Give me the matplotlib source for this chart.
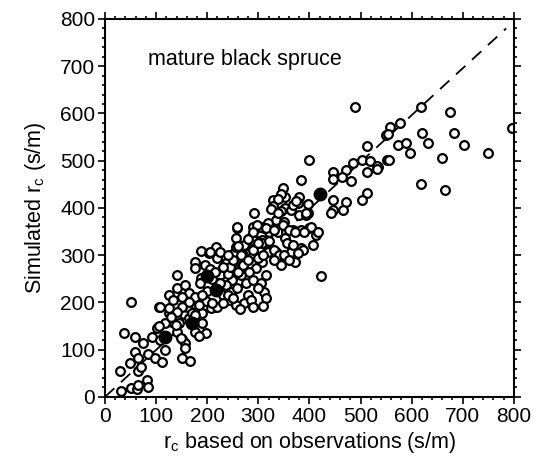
import matplotlib
matplotlib.use("Agg")
import matplotlib.pyplot as plt
from matplotlib.ticker import MultipleLocator

plt.rcParams['font.family'] = ['Liberation Sans', 'DejaVu Sans']
plt.rcParams['mathtext.default'] = 'regular'

obs = [31, 51, 62, 64, 82, 85, 30, 49, 64, 71, 58, 64, 85, 97, 112, 38, 58, 75, 92, 102,
       118, 106, 125, 131, 144, 151, 156, 157, 150, 167, 177, 190, 197, 184, 141, 118, 157, 177, 197, 213,
       177, 190, 207, 220, 154, 164, 138, 51, 108, 148,
       141, 108, 125, 125, 141, 157, 164, 177, 161, 171, 184, 177, 177, 187, 203, 217, 220, 187, 226, 236,
       253, 256, 259, 253, 269, 276, 289, 302, 308, 295, 312, 308, 295, 282, 266, 249, 236, 246, 259, 276,
       289, 305, 315, 312, 315, 272, 256, 243, 230, 230, 210, 151, 134, 177,
       384, 348, 352, 328, 380, 377, 328, 352, 364, 397, 397, 380, 292, 335, 351, 318, 305, 289, 259, 321,
       338, 354, 367, 384, 400, 413, 352, 357, 408, 298, 285, 272, 256, 308, 364, 384, 226, 205, 318, 335,
       266, 297, 315, 331, 348, 361, 289,
       400, 512, 549, 551, 486, 502, 518, 535, 446, 446, 472, 482, 463, 512, 512, 502, 446, 472, 446, 466,
       489, 619, 675, 796, 621, 682, 632, 703, 750, 659, 619, 666, 558, 577, 553, 574, 589, 597, 556, 533,
       533, 423, 371, 387, 377, 367, 404, 417, 390, 371, 394, 344, 338, 325, 367, 374, 394, 345, 338, 443,
       195, 205, 210, 215, 225, 240, 245, 250, 260, 270, 280, 290, 300, 320, 330, 340, 260, 280, 290, 300,
       310, 350, 360, 345, 330, 230, 240, 200, 190, 185, 165, 150, 140, 130, 105, 240, 250, 280, 300, 285,
       265, 290, 310]
sim = [13, 18, 16, 25, 35, 21, 55, 71, 54, 64, 94, 82, 91, 82, 73, 135, 126, 115, 126, 145,
       99, 190, 177, 159, 156, 122, 114, 103, 82, 75, 138, 156, 135, 128, 138, 156, 198, 195, 202, 191,
       180, 177, 188, 191, 176, 167, 152, 200, 121, 124,
       258, 191, 189, 216, 230, 236, 219, 212, 191, 177, 195, 286, 272, 309, 304, 318, 294, 251, 258, 283,
       286, 336, 357, 304, 304, 322, 300, 315, 332, 357, 357, 286, 272, 265, 258, 248, 237, 223, 230, 241,
       248, 241, 258, 223, 209, 198, 195, 205, 216, 198, 198, 212, 205, 174,
       459, 443, 424, 417, 424, 410, 403, 399, 396, 408, 389, 385, 389, 375, 371, 367, 360, 360, 360, 350,
       350, 350, 353, 353, 357, 343, 336, 325, 322, 329, 339, 322, 318, 325, 307, 315, 306, 307, 307, 306,
       300, 364, 357, 353, 364, 353, 332,
       502, 531, 554, 502, 494, 502, 500, 487, 477, 462, 480, 458, 466, 475, 431, 417, 417, 413, 396, 396,
       614, 614, 602, 570, 559, 559, 538, 533, 516, 506, 451, 437, 572, 579, 557, 533, 538, 517, 502, 489,
       483, 256, 286, 311, 304, 322, 360, 350, 350, 350, 385, 430, 419, 398, 406, 415, 390, 393, 389, 390,
       280, 270, 250, 265, 240, 260, 275, 290, 265, 280, 290, 310, 325, 330, 310, 300, 320, 335, 350, 295,
       300, 300, 290, 280, 290, 275, 300, 225, 215, 240, 200, 190, 180, 170, 150, 215, 210, 215, 230, 205,
       185, 190, 192]

# filled circles
obs_filled = [118, 171, 200, 217, 420]
sim_filled = [126, 156, 255, 226, 430]

fig = plt.figure(figsize=(5.33, 4.62), dpi=100)
ax = fig.add_axes([0.197, 0.141, 0.767, 0.818])

# 1:1 line
ax.plot([0, 785], [0, 780], color='black', lw=1.3, dashes=(7, 5), zorder=1)

ax.plot(obs, sim, 'o', ms=6.3, mfc='white', mec='black', mew=1.6, zorder=2)
ax.plot(obs_filled, sim_filled, 'o', ms=9, mfc='black', mec='black', zorder=3)

ax.text(85, 703, 'mature black spruce', fontsize=15.5)

ax.set_xlim(0, 800)
ax.set_ylim(0, 800)
ax.xaxis.set_major_locator(MultipleLocator(100))
ax.yaxis.set_major_locator(MultipleLocator(100))
ax.xaxis.set_minor_locator(MultipleLocator(20))
ax.yaxis.set_minor_locator(MultipleLocator(20))
ax.tick_params(which='both', direction='out', top=True, right=True, labelsize=15, width=1.2)
ax.tick_params(which='major', length=5, pad=2)
ax.tick_params(which='minor', length=2.5)
for s in ax.spines.values():
    s.set_linewidth(1.5)

ax.set_xlabel('r$_c$ based on observations (s/m)', fontsize=15.5, labelpad=3)
ax.set_ylabel('Simulated r$_c$ (s/m)', fontsize=15.5, labelpad=9)

fig.savefig('out.png', dpi=100)
